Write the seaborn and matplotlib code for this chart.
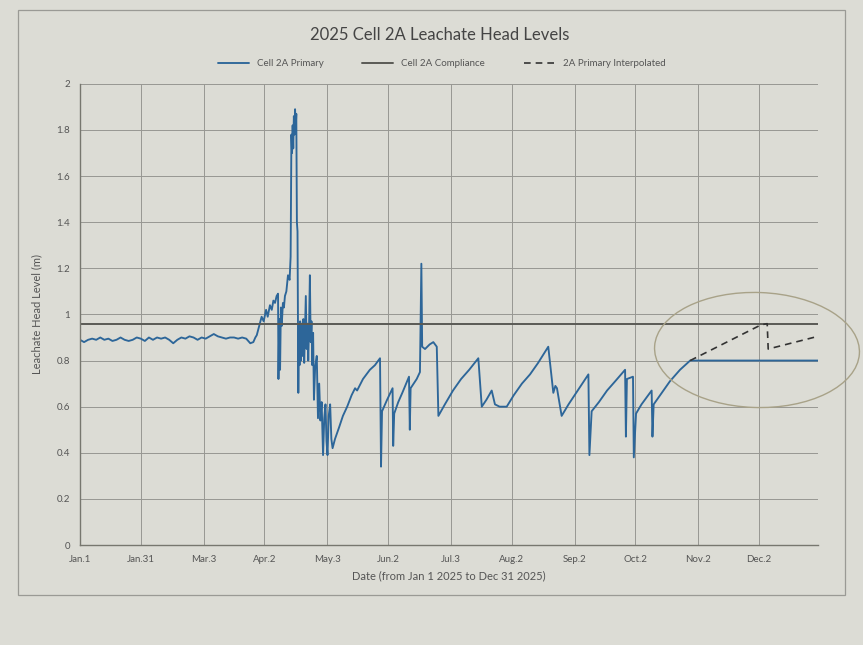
import pandas as pd
import numpy as np
import matplotlib
matplotlib.use("Agg")
import matplotlib.pyplot as plt
from matplotlib.patches import Ellipse, Rectangle
import seaborn as sns

# day offsets from Jan 1 2025
primary_day = [0, 2, 4, 6, 8, 10, 12, 14, 16, 18, 20, 22, 24, 26, 28, 30, 32, 34, 36, 38,
               40, 42, 44, 46, 48, 50, 52, 54, 56, 58, 60, 62, 64, 66, 68, 70, 72, 74, 76, 78,
               80, 82, 84, 85.5, 86.5,
               87.2, 88.4, 89.6, 90.6, 91.8, 92.6, 93.7, 94.6, 95.4, 96.2, 97.0, 97.7, 97.9, 98.3,
               98.7, 99.1, 99.5, 100.1, 100.6, 101.1, 101.8, 102.6, 103.4, 103.9, 104.3, 104.6,
               104.9, 105.2, 105.5, 105.8, 106.1, 106.4, 106.7, 107.0, 107.3, 107.7,
               108.0, 108.3, 108.6, 109.0, 109.4, 109.8, 110.2, 110.6, 111.0, 111.4, 111.8, 112.2,
               112.6, 113.0, 113.4, 113.8, 114.2, 114.6, 115.0, 115.4, 116.0, 116.8, 117.4, 118.0,
               118.6, 119.2, 119.9, 120.5, 121.1, 121.6, 122.1, 122.7, 123.4, 124.0, 124.6,
               125.8, 127.8, 129.7, 131.8, 134.0, 135.7, 136.7, 139.6, 143.0, 145.5, 148.0,
               148.5, 149.0, 151.5, 154.2, 154.5, 155.0, 157.0, 159.0, 162.3, 162.7, 163.1, 166.1,
               167.7, 168.4, 168.8, 170.2, 172.5, 174.3, 176.0, 176.8,
               180, 184, 188, 192, 196.5, 198.2, 200.5, 203.1, 204.7, 207, 210.5, 214, 218, 222,
               226, 231.0, 233.5, 234.5, 235.3, 237.6, 241, 244, 247, 250.8, 251.3, 252.4, 256,
               260, 264, 268.9, 269.3, 269.8, 272.8, 273.2, 274.3, 277, 282.0, 282.4, 283.0, 287,
               291, 296, 301, 364]
primary_level = [0.89, 0.88, 0.89, 0.895, 0.89, 0.90, 0.89, 0.895, 0.885, 0.89, 0.90, 0.89,
                 0.885, 0.89, 0.90, 0.895, 0.885, 0.90, 0.89, 0.90, 0.895, 0.90, 0.89, 0.875,
                 0.89, 0.90, 0.895, 0.905, 0.90, 0.89, 0.90, 0.895, 0.905, 0.915, 0.905, 0.90,
                 0.895, 0.90, 0.90, 0.895, 0.90, 0.895, 0.875, 0.88, 0.90,
                 0.91, 0.95, 0.99, 0.97, 1.02, 0.99, 1.04, 1.02, 1.06, 1.05, 1.08, 1.09, 0.72, 0.98,
                 0.76, 1.03, 0.95, 1.05, 1.03, 1.08, 1.10, 1.17, 1.15, 1.25, 1.78, 1.70,
                 1.82, 1.72, 1.86, 1.78, 1.89, 1.80, 1.87, 1.40, 1.36, 0.66,
                 0.95, 0.78, 0.97, 0.80, 0.96, 0.82, 0.98, 0.79, 0.94, 1.08, 0.85, 0.96,
                 0.80, 0.95, 1.17, 0.88, 0.97, 0.78, 0.92, 0.63, 0.77, 0.82, 0.55, 0.70,
                 0.54, 0.62, 0.39, 0.55, 0.61, 0.45, 0.39, 0.56, 0.61, 0.46, 0.42,
                 0.46, 0.51, 0.56, 0.60, 0.65, 0.68, 0.67, 0.72, 0.76, 0.78, 0.81,
                 0.34, 0.58, 0.63, 0.68, 0.43, 0.57, 0.62, 0.66, 0.73, 0.50, 0.68, 0.72,
                 0.75, 1.22, 0.86, 0.85, 0.87, 0.88, 0.86, 0.56,
                 0.61, 0.67, 0.72, 0.76, 0.81, 0.60, 0.63, 0.67, 0.61, 0.60, 0.60, 0.65, 0.70, 0.74,
                 0.79, 0.86, 0.66, 0.69, 0.68, 0.56, 0.61, 0.65, 0.69, 0.74, 0.39, 0.58, 0.62,
                 0.67, 0.71, 0.76, 0.47, 0.72, 0.73, 0.38, 0.57, 0.61, 0.67, 0.47, 0.61, 0.66,
                 0.71, 0.76, 0.80, 0.80]

interp_day = [301, 336, 339, 339.5, 364]
interp_level = [0.80, 0.955, 0.96, 0.85, 0.905]

compliance_day = [0, 364]
compliance_level = [0.96, 0.96]

tick_labels = ["Jan.1", "Jan.31", "Mar.3", "Apr.2", "May.3", "Jun.2",
               "Jul.3", "Aug.2", "Sep.2", "Oct.2", "Nov.2", "Dec.2"]
tick_dates = ["2025-01-01", "2025-01-31", "2025-03-03", "2025-04-02", "2025-05-03", "2025-06-02",
              "2025-07-03", "2025-08-02", "2025-09-02", "2025-10-02", "2025-11-02", "2025-12-02"]

start = pd.Timestamp("2025-01-01")
def to_dates(days):
    return start + pd.to_timedelta(days, unit="D")

primary = pd.DataFrame({"date": to_dates(primary_day), "level": primary_level})
interp = pd.DataFrame({"date": to_dates(interp_day), "level": interp_level})
compliance = pd.DataFrame({"date": to_dates(compliance_day), "level": compliance_level})

sns.set_theme(style="white")
plt.rcParams["font.family"] = ["Lato", "DejaVu Sans"]

paper = "#dcdcd5"
text_col = "#555555"

fig = plt.figure(figsize=(8.63, 6.45), dpi=100, facecolor=paper)
ax = fig.add_axes([0.0927, 0.155, 0.855, 0.715])
ax.set_facecolor(paper)

sns.lineplot(data=primary, x="date", y="level", ax=ax, color="#2d6699", lw=1.35,
             sort=False, estimator=None, label="Cell 2A Primary")
sns.lineplot(data=compliance, x="date", y="level", ax=ax, color="#5a5a55", lw=1.4,
             sort=False, estimator=None, label="Cell 2A Compliance")
sns.lineplot(data=interp, x="date", y="level", ax=ax, color="#333333", lw=1.2,
             linestyle=(0, (4, 3)), sort=False, estimator=None, label="2A Primary Interpolated")

ax.set_xlim(start, pd.Timestamp("2025-12-31"))
ax.set_ylim(0, 2)
ax.set_xticks(pd.to_datetime(tick_dates))
ax.set_xticklabels(tick_labels)
ax.set_yticks(np.arange(0, 2.01, 0.2))
ax.set_yticklabels([f"{v:g}" for v in np.round(np.arange(0, 2.01, 0.2), 1)])
ax.tick_params(axis="both", length=0, labelsize=7, labelcolor=text_col, pad=7)
ax.grid(True, color="#979792", lw=0.7)
for s in ["top", "right"]:
    ax.spines[s].set_visible(False)
for s in ["left", "bottom"]:
    ax.spines[s].set_color("#77776f")
    ax.spines[s].set_linewidth(1.0)

ax.set_xlabel("Date (from Jan 1 2025 to Dec 31 2025)", fontsize=8, color=text_col, labelpad=5)
ax.set_ylabel("Leachate Head Level (m)", fontsize=8, color=text_col, labelpad=10)

ax.legend(loc="lower center", bbox_to_anchor=(0.49, 1.015), ncol=3, frameon=False,
          fontsize=7, labelcolor=text_col, handlelength=3.2, columnspacing=4)

fig.text(0.51, 0.946, "2025 Cell 2A Leachate Head Levels", ha="center", va="center",
         fontsize=12, color="#444444")

# chart border and the pencil circle around the interpolated section
fig.patches.append(Rectangle((0.021, 0.078), 0.958, 0.907, transform=fig.transFigure,
                             fill=False, edgecolor="#9a9a95", lw=0.9))
fig.patches.append(Ellipse((757 / 863, 1 - 350 / 645), 205 / 863, 115 / 645, angle=-3,
                           transform=fig.transFigure, fill=False, edgecolor="#a8a288", lw=1.0))

fig.savefig("out.png", dpi=100, facecolor=paper)
